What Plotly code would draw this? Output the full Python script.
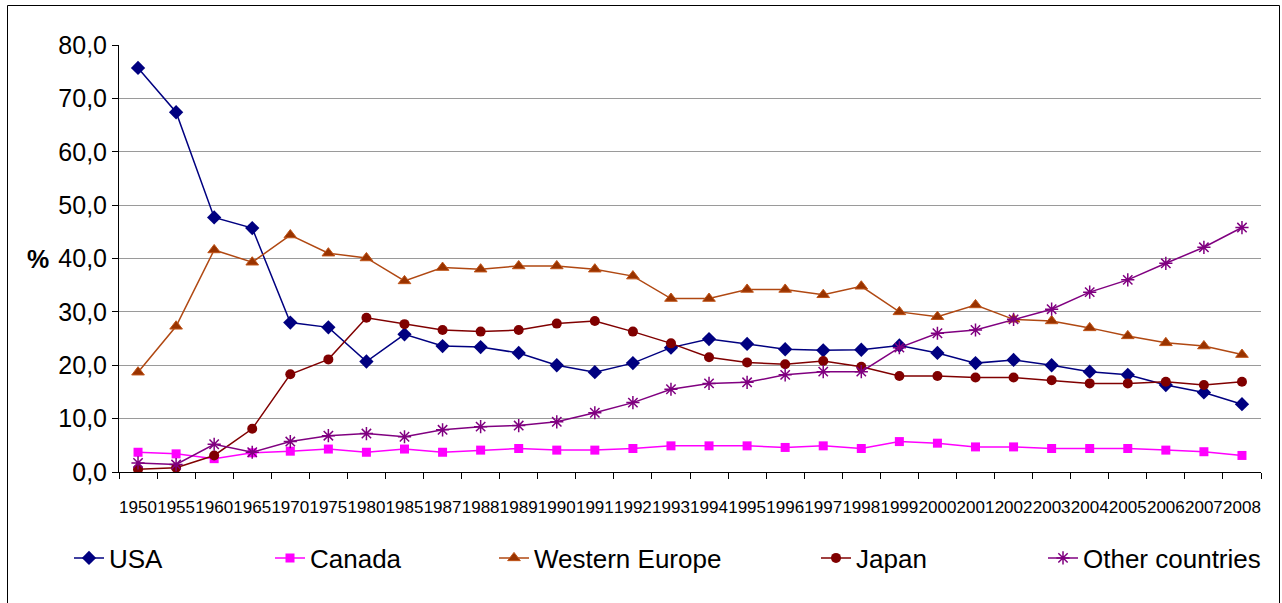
import plotly.graph_objects as go

years = ["1950", "1955", "1960", "1965", "1970", "1975", "1980", "1985", "1987", "1988",
         "1989", "1990", "1991", "1992", "1993", "1994", "1995", "1996", "1997", "1998",
         "1999", "2000", "2001", "2002", "2003", "2004", "2005", "2006", "2007", "2008"]

usa = [75.7, 67.4, 47.7, 45.7, 28.0, 27.1, 20.7, 25.8, 23.6, 23.4,
       22.3, 20.0, 18.7, 20.4, 23.3, 24.9, 24.0, 23.0, 22.8, 22.9,
       23.7, 22.3, 20.4, 21.0, 20.0, 18.8, 18.2, 16.3, 14.9, 12.7]
canada = [3.7, 3.4, 2.5, 3.6, 3.9, 4.3, 3.7, 4.3, 3.7, 4.1,
          4.4, 4.1, 4.1, 4.4, 4.9, 4.9, 4.9, 4.6, 4.9, 4.4,
          5.7, 5.4, 4.7, 4.7, 4.4, 4.4, 4.4, 4.1, 3.8, 3.1]
western_europe = [18.7, 27.3, 41.6, 39.3, 44.4, 41.0, 40.1, 35.8, 38.3, 38.0,
                  38.6, 38.6, 38.0, 36.7, 32.5, 32.5, 34.2, 34.2, 33.2, 34.8,
                  30.0, 29.1, 31.3, 28.6, 28.3, 27.0, 25.5, 24.2, 23.6, 22.0]
japan = [0.5, 0.8, 3.1, 8.1, 18.3, 21.1, 28.9, 27.7, 26.6, 26.3,
         26.6, 27.8, 28.3, 26.3, 24.1, 21.5, 20.5, 20.2, 20.8, 19.7,
         18.0, 18.0, 17.7, 17.7, 17.2, 16.6, 16.6, 16.9, 16.3, 16.9]
other = [1.7, 1.4, 5.2, 3.7, 5.7, 6.8, 7.2, 6.6, 7.9, 8.5,
         8.7, 9.4, 11.1, 13.0, 15.5, 16.6, 16.8, 18.2, 18.8, 18.8,
         23.3, 26.0, 26.6, 28.6, 30.5, 33.7, 36.0, 39.1, 42.1, 45.8]

y_ticks = [0, 10, 20, 30, 40, 50, 60, 70, 80]

FONT = "Liberation Sans, Arial, sans-serif"

series = [
    ("USA", usa, "#000080", dict(symbol="diamond", size=11, color="#000080")),
    ("Canada", canada, "#FF00FF", dict(symbol="square", size=9, color="#FF00FF")),
    ("Western Europe", western_europe, "#B04812",
     dict(symbol="triangle-up", size=11, color="#993300", line=dict(color="#C05418", width=1))),
    ("Japan", japan, "#800000", dict(symbol="circle", size=10, color="#800000")),
    ("Other countries", other, "#800080",
     dict(symbol="asterisk-open", size=11, color="#800080", line=dict(color="#800080", width=1.5))),
]

text_starts = [111, 312, 536, 858, 1085]

fig = go.Figure()
for i, (name, vals, lc, mk) in enumerate(series):
    leg = "legend" if i == 0 else f"legend{i + 1}"
    fig.add_trace(go.Scatter(
        x=years, y=vals, name=name, mode="lines+markers",
        line=dict(color=lc, width=1.5), marker=mk, legend=leg,
    ))

legend_common = dict(
    orientation="h", xref="container", yref="container",
    yanchor="middle", y=1 - 558 / 603, xanchor="left",
    font=dict(family=FONT, size=26, color="#000000"),
    bgcolor="rgba(0,0,0,0)", borderwidth=0, itemwidth=30,
)
legends = {}
for i, ts in enumerate(text_starts):
    key = "legend" if i == 0 else f"legend{i + 1}"
    legends[key] = dict(legend_common, x=(ts - 42) / 1282)

L, R, T, B = 119, 1261, 45, 472
W = R - L
H = B - T

fig.update_layout(
    width=1282, height=603,
    margin=dict(l=L, r=1282 - R, t=T, b=603 - B, pad=0),
    paper_bgcolor="white", plot_bgcolor="white",
    separators=",.",
    font=dict(family=FONT, color="#000000"),
    showlegend=True,
    **legends,
    xaxis=dict(
        type="category", tickson="boundaries", ticks="outside", ticklen=6,
        tickcolor="#000000", showline=True, linecolor="#000000", linewidth=1,
        showgrid=False, tickangle=0, ticklabelstandoff=20,
        tickfont=dict(family="Liberation Sans Narrow, " + FONT, size=17, color="#000000"),
        range=[-0.5, len(years) - 0.5], fixedrange=True,
    ),
    yaxis=dict(
        range=[0, 80], tickvals=y_ticks, tickformat=".1f", ticks="outside", ticklen=6,
        tickcolor="#000000", showline=True, linecolor="#000000", linewidth=1,
        showgrid=True, gridcolor="#9A9A9A", gridwidth=1.3, zeroline=False,
        tickfont=dict(family=FONT, size=25, color="#000000"), ticklabelstandoff=0,
    ),
    annotations=[dict(
        text="<b>%</b>", xref="paper", yref="y", x=(38 - L) / W, y=40,
        xanchor="center", yanchor="middle", showarrow=False,
        font=dict(family=FONT, size=25, color="#000000"),
    )],
    shapes=[dict(
        type="rect", xref="paper", yref="paper",
        x0=(7.5 - L) / W, x1=(1279.5 - L) / W,
        y0=(B - 620) / H, y1=(B - 5.5) / H,
        line=dict(color="#000000", width=1), fillcolor="rgba(0,0,0,0)", layer="below",
    )],
)

fig.write_html("out.html")
